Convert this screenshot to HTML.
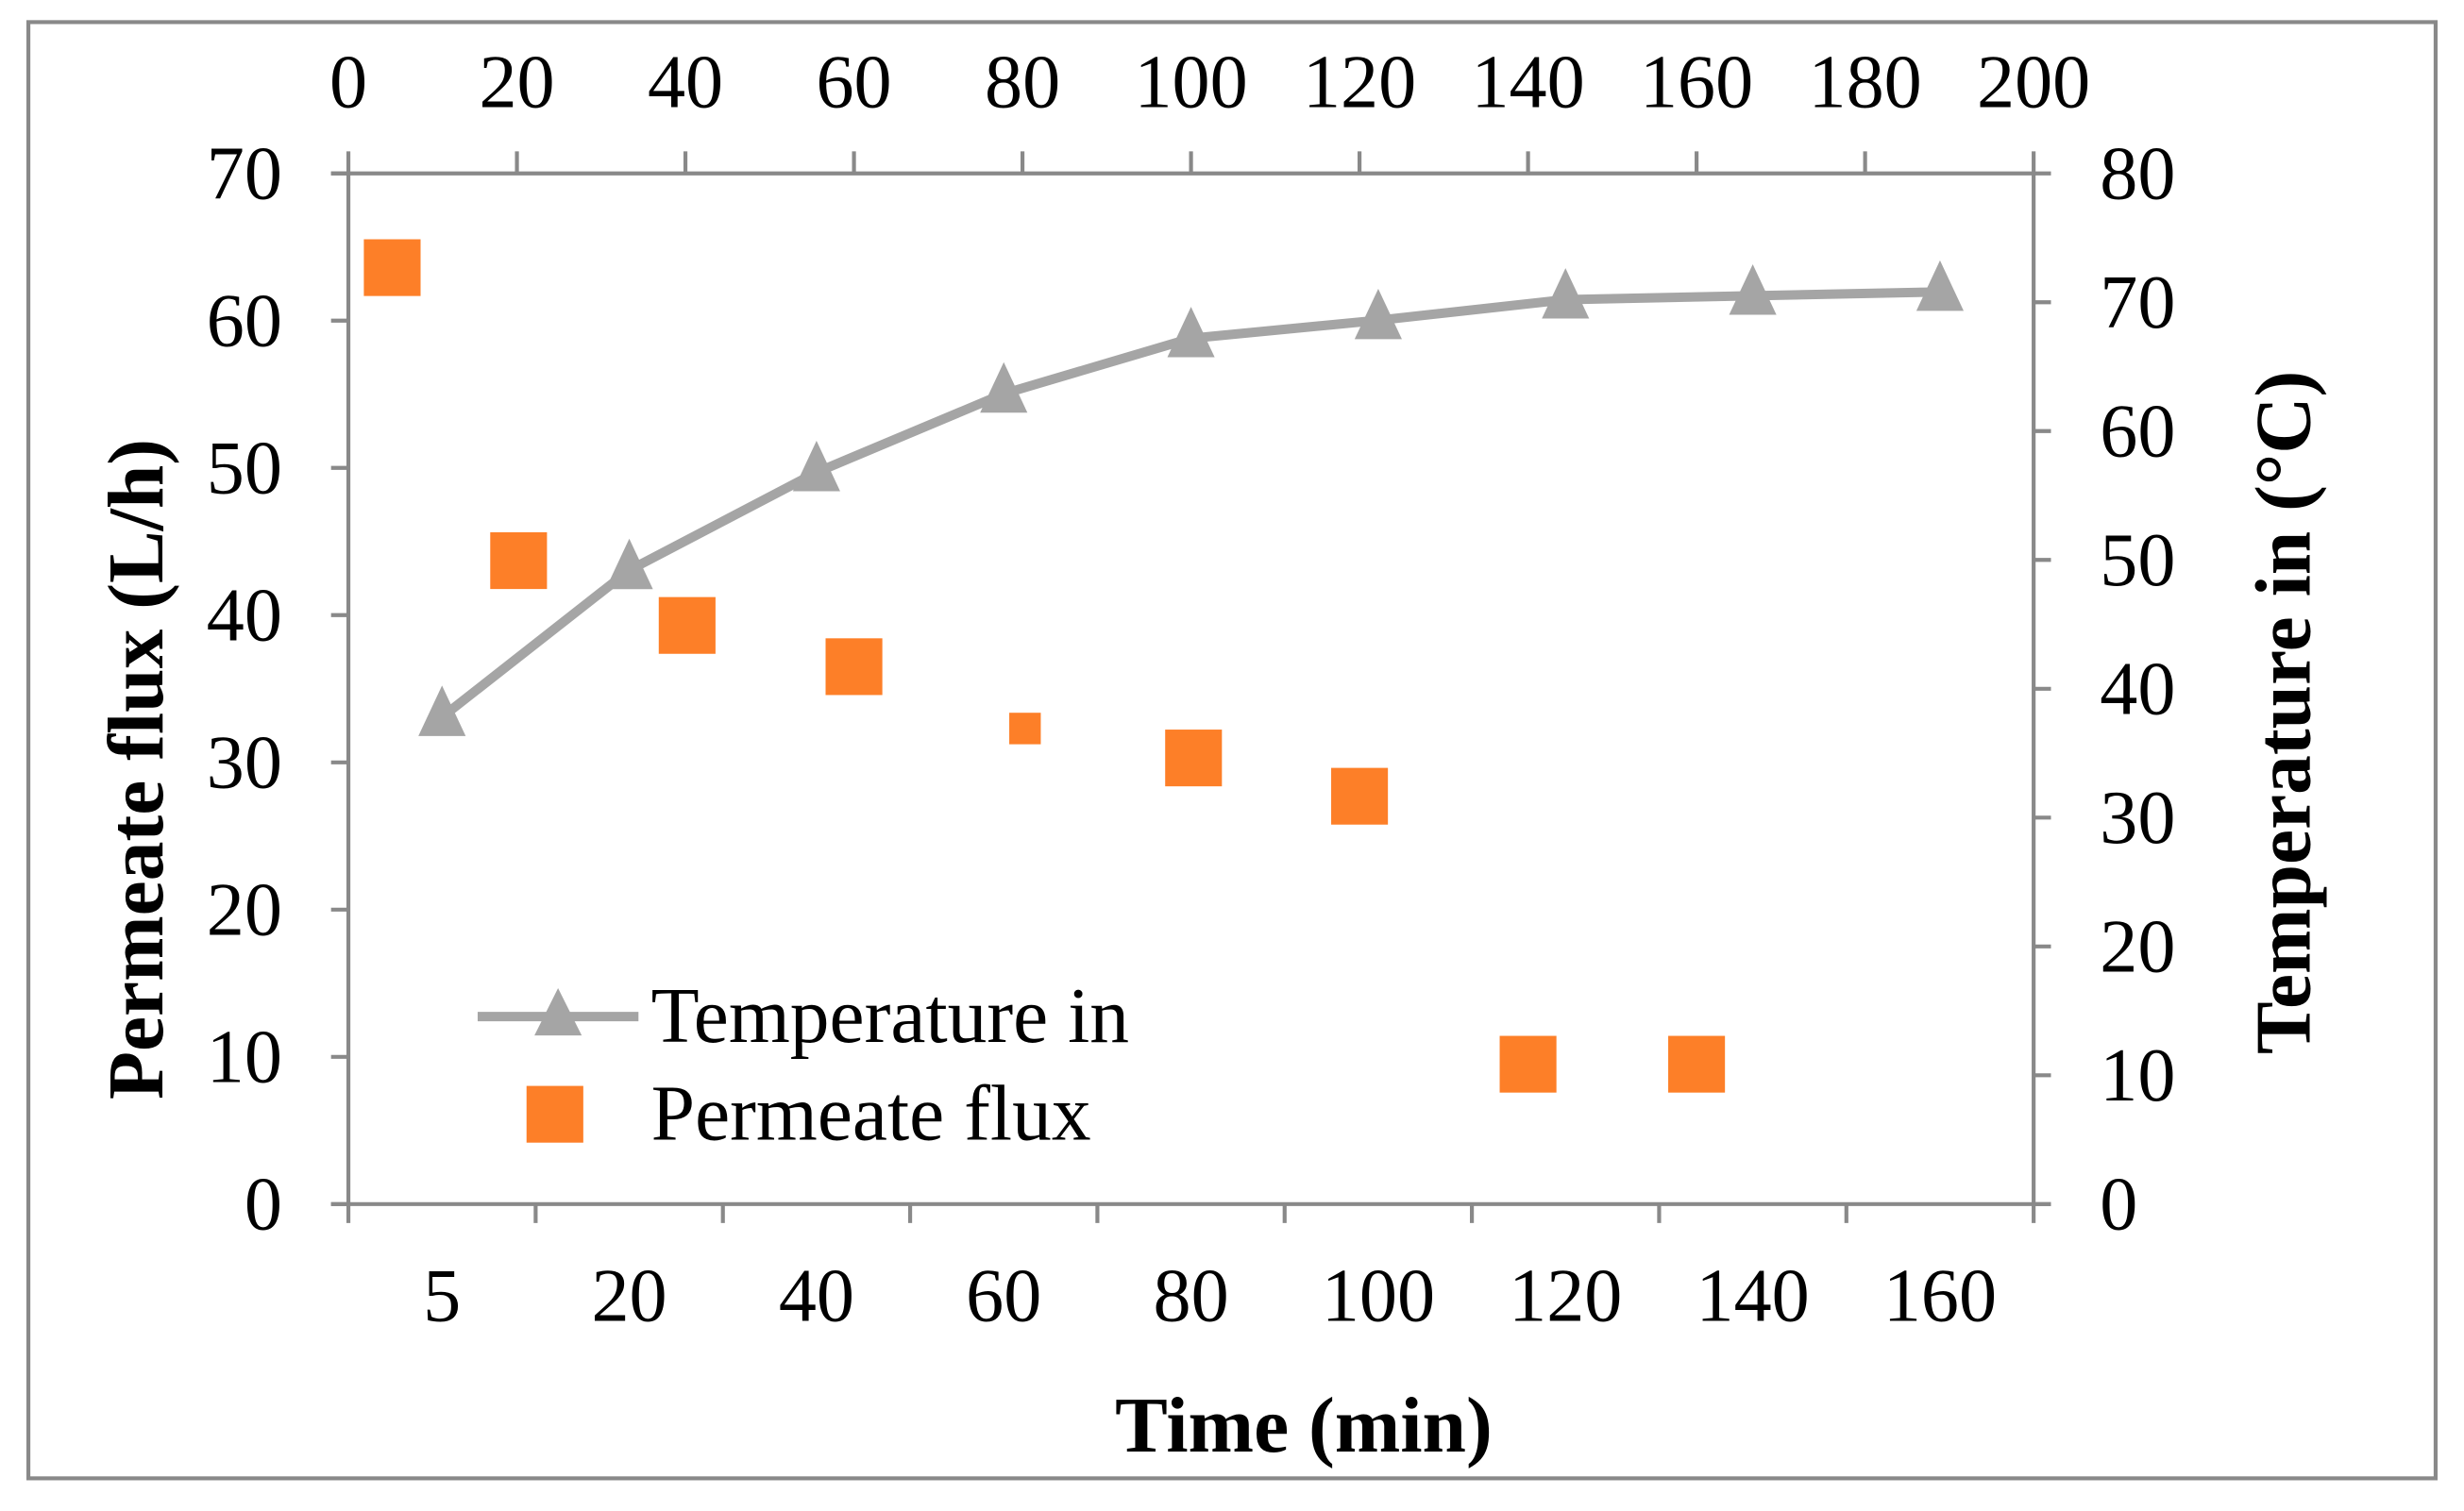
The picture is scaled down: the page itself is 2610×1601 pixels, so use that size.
<!DOCTYPE html>
<html><head><meta charset="utf-8"><style>
html,body{margin:0;padding:0;background:#fff}
svg{display:block}
text{font-family:"Liberation Serif",serif;fill:#000}
</style></head><body>
<svg id="chart" width="2610" height="1601" viewBox="0 0 1563 958.7" xmlns="http://www.w3.org/2000/svg">
<rect x="18" y="14" width="1527" height="924" fill="#fff" stroke="#898989" stroke-width="2.5"/>
<g id="axes"></g>
<g id="marks"></g>
<text transform="translate(103,488) rotate(-90)" text-anchor="middle" font-size="50" font-weight="bold">Permeate flux (L/h)</text>
<text transform="translate(1465,452) rotate(-90)" text-anchor="middle" font-size="50" font-weight="bold">Temperature in (°C)</text>
<text x="827" y="921" text-anchor="middle" font-size="50" font-weight="bold">Time (min)</text>
<g>
<line x1="303" y1="645" x2="405" y2="645" stroke="#a5a5a5" stroke-width="6"/>
<polygon points="354,627 369,657 339,657" fill="#a5a5a5"/>
<text x="413" y="661" font-size="50">Temperature in</text>
<rect x="334" y="689" width="36" height="36" fill="#fd7f28"/>
<text x="413" y="723" font-size="50">Permeate flux</text>
</g>
</svg>
<script>
const categories = ["5","20","40","60","80","100","120","140","160"];
const temperature = [37.8,49.2,56.8,62.9,67.2,68.6,70.2,70.5,70.8];
const fluxTime = [5.2,20.2,40.2,60,80.3,100.3,120,140,160];
const fluxValues = [63.6,43.7,39.3,36.5,32.3,30.3,27.7,9.5,9.5];
const leftTicks = [0,10,20,30,40,50,60,70];
const rightTicks = [0,10,20,30,40,50,60,70,80];
const topTicks = [0,20,40,60,80,100,120,140,160,180,200];

const L=221,R=1290,T=110,B=764;
const yL=v=>B-(v/70)*(B-T);
const yR=v=>B-(v/80)*(B-T);
const xTop=v=>L+(v/200)*(R-L);
const xCat=i=>L+(i+0.5)*(R-L)/categories.length;
const NS="http://www.w3.org/2000/svg";
const axes=document.getElementById('axes'), marks=document.getElementById('marks');
function mk(tag,attrs,parent,txt){const e=document.createElementNS(NS,tag);for(const k in attrs)e.setAttribute(k,attrs[k]);if(txt!==undefined)e.textContent=txt;parent.appendChild(e);return e;}
const ax={stroke:"#898989","stroke-width":2.5};
let e;
e=mk('line',Object.assign({x1:L,y1:T,x2:L,y2:B},ax),axes);


e=mk('line',Object.assign({x1:R,y1:T,x2:R,y2:B},ax),axes);


e=mk('line',Object.assign({x1:L-11,y1:T,x2:R,y2:T},ax),axes);


e=mk('line',Object.assign({x1:L-11,y1:B,x2:R+11,y2:B},ax),axes);


leftTicks.forEach(v=>{const y=yL(v);
 e=mk('line',Object.assign({x1:L-11,y1:y,x2:L,y2:y},ax),axes);
 
 
 e=mk('text',{x:L-42,y:y+16,'text-anchor':'end','font-size':48},axes,v);
 
 });
rightTicks.forEach(v=>{const y=yR(v);
 e=mk('line',Object.assign({x1:R,y1:y,x2:R+11,y2:y},ax),axes);
 
 
 e=mk('text',{x:R+42,y:y+16,'text-anchor':'start','font-size':48},axes,v);
 
 });
topTicks.forEach(v=>{const x=xTop(v);
 e=mk('line',Object.assign({x1:x,y1:T-14,x2:x,y2:T},ax),axes);
 
 
 e=mk('text',{x:x,y:68,'text-anchor':'middle','font-size':48},axes,v);
 
 });
for(let i=0;i<=categories.length;i++){const x=L+i*(R-L)/categories.length;
 e=mk('line',Object.assign({x1:x,y1:B,x2:x,y2:B+12},ax),axes);
 
 }
categories.forEach((c,i)=>{
 e=mk('text',{x:xCat(i),y:838,'text-anchor':'middle','font-size':48},axes,c);
 
 });
const pts=temperature.map((v,i)=>xCat(i)+','+yR(v)).join(' ');
e=mk('polyline',{points:pts,fill:'none',stroke:'#a5a5a5','stroke-width':6,'stroke-linejoin':'round'},marks);


temperature.forEach((v,i)=>{const x=xCat(i),y=yR(v);
 e=mk('polygon',{points:`${x},${y-20} ${x+15},${y+12} ${x-15},${y+12}`,fill:'#a5a5a5'},marks);
 
 });
fluxValues.forEach((v,i)=>{const x=xTop(fluxTime[i]),y=yL(v);const s=(i===4)?20:36;
 e=mk('rect',{x:x-s/2,y:y-s/2,width:s,height:s,fill:'#fd7f28'},marks);
 
 });
</script>
</body></html>
